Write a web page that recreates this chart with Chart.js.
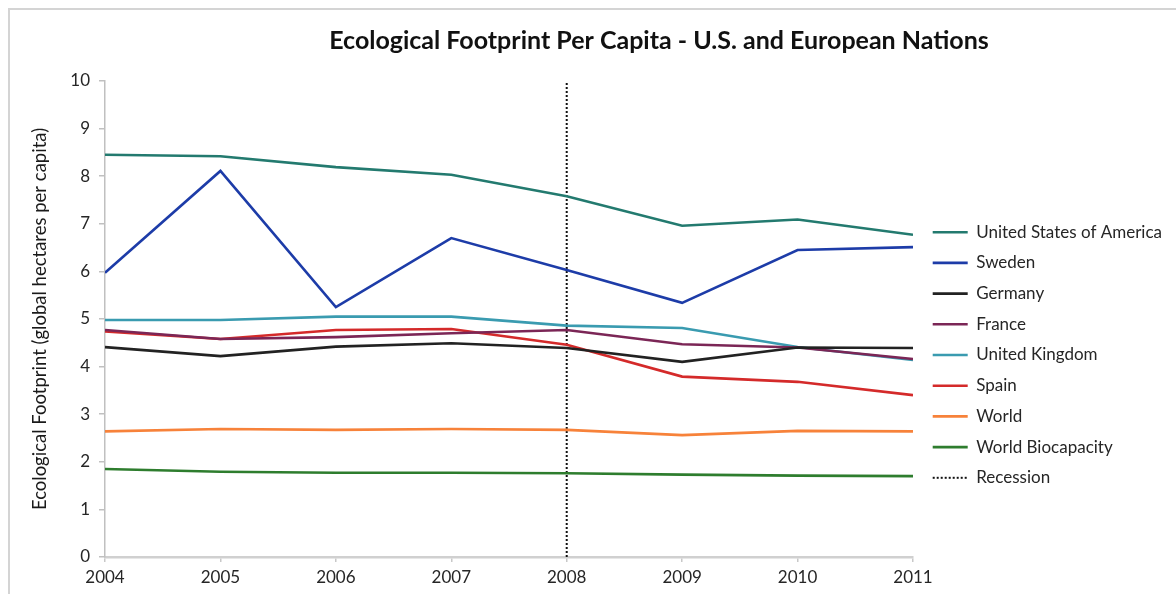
<!DOCTYPE html>
<html>
<head>
<meta charset="utf-8">
<script src="https://cdn.jsdelivr.net/npm/chart.js@4.4.1/dist/chart.umd.min.js"></script>
<style>
  html, body { margin: 0; padding: 0; background: #ffffff; }
  #wrap { position: relative; width: 1176px; height: 594px; overflow: hidden; }
  #frame { position: absolute; left: 8px; top: 8px; width: 1300px; height: 700px;
           border-top: 2px solid #d4d4d4; border-left: 2px solid #d4d4d4; }
  #c { position: absolute; left: 0; top: 0; }
</style>
</head>
<body>
<div id="wrap">
  <div id="frame"></div>
  <canvas id="c" width="1176" height="594"></canvas>
</div>
<script>
const years = [2004, 2005, 2006, 2007, 2008, 2009, 2010, 2011];
const yTicks = [0, 1, 2, 3, 4, 5, 6, 7, 8, 9, 10];

const usa     = [8.45, 8.42, 8.19, 8.03, 7.58, 6.96, 7.09, 6.77];
const sweden  = [5.97, 8.11, 5.25, 6.70, 6.03, 5.34, 6.45, 6.51];
const germany = [4.41, 4.22, 4.42, 4.49, 4.39, 4.10, 4.40, 4.39];
const france  = [4.77, 4.58, 4.62, 4.70, 4.77, 4.47, 4.40, 4.16];
const uk      = [4.98, 4.98, 5.05, 5.05, 4.86, 4.81, 4.41, 4.14];
const spain   = [4.74, 4.58, 4.77, 4.79, 4.46, 3.79, 3.68, 3.40];
const world   = [2.64, 2.69, 2.67, 2.69, 2.67, 2.56, 2.65, 2.64];
const bio     = [1.85, 1.79, 1.77, 1.77, 1.76, 1.73, 1.71, 1.70];

const recessionYear = 2008;
const recessionRange = [0, 10];

const seriesNames = ['United States of America', 'Sweden', 'Germany', 'France',
                     'United Kingdom', 'Spain', 'World', 'World Biocapacity'];
const seriesValues = [usa, sweden, germany, france, uk, spain, world, bio];
const seriesColors = ['#237a6f', '#1d3ca8', '#222222', '#7b2656',
                      '#3a9bb0', '#d42a2a', '#f7823a', '#2e7d2e'];

const FONT = 'Lato, "Open Sans", sans-serif';

const datasets = seriesNames.map((name, i) => ({
  label: name,
  data: seriesValues[i].map((v, j) => ({ x: years[j], y: v })),
  borderColor: seriesColors[i],
  backgroundColor: seriesColors[i],
  borderWidth: 2.6,
  pointRadius: 0,
  tension: 0,
  fill: false
}));
datasets.push({
  label: 'Recession',
  data: recessionRange.map(v => ({ x: recessionYear, y: v })),
  borderColor: '#111111',
  backgroundColor: '#111111',
  borderWidth: 2,
  borderDash: [2, 2],
  pointRadius: 0,
  fill: false
});

const layoutTweak = {
  id: 'layoutTweak',
  beforeLayout(chart) {
    const lg = chart.legend;
    if (lg && !lg._patched) {
      const orig = lg.fit.bind(lg);
      lg.fit = function () { orig(); this.width = 263; };
      lg._patched = true;
    }
  },
  afterLayout(chart) {
    const lg = chart.legend;
    if (lg) { lg.left += 6; lg.right += 6; lg.top += 58; lg.bottom += 58; }
    const t = chart.titleBlock;
    if (t) { t.left += 71; t.right += 71; }
  }
};

new Chart(document.getElementById('c'), {
  type: 'line',
  data: { datasets },
  plugins: [layoutTweak],
  options: {
    responsive: false,
    animation: false,
    devicePixelRatio: 1,
    layout: { padding: 0 },
    plugins: {
      title: {
        display: true,
        text: 'Ecological Footprint Per Capita - U.S. and European Nations',
        color: '#111111',
        font: { family: FONT, size: 25, weight: 'bold' },
        padding: { top: 26, bottom: 25 }
      },
      legend: {
        display: true,
        position: 'right',
        labels: {
          usePointStyle: true,
          pointStyle: 'line',
          pointStyleWidth: 35,
          padding: 13.7,
          color: '#262626',
          font: { family: FONT, size: 17 },
          generateLabels(chart) {
            const items = Chart.defaults.plugins.legend.labels.generateLabels(chart);
            items.forEach(it => {
              const ds = chart.data.datasets[it.datasetIndex];
              it.lineDash = ds.borderDash || [];
              it.lineWidth = ds.borderWidth;
              it.strokeStyle = ds.borderColor;
            });
            return items;
          }
        }
      },
      tooltip: { enabled: false }
    },
    scales: {
      x: {
        type: 'linear',
        min: years[0],
        max: years[years.length - 1],
        afterBuildTicks(scale) { scale.ticks = years.map(v => ({ value: v })); },
        afterFit(scale) { scale.height = 37; },
        ticks: {
          callback: v => String(v),
          color: '#262626',
          font: { family: FONT, size: 17 },
          padding: 5,
          maxRotation: 0
        },
        grid: { display: true, drawOnChartArea: false, drawTicks: true, tickLength: 5, color: '#c8c8c8', lineWidth: 1.5 },
        border: { display: true, color: '#d0d0d0', width: 2.5 }
      },
      y: {
        min: 0,
        max: 10,
        afterBuildTicks(scale) { scale.ticks = yTicks.map(v => ({ value: v })); },
        afterFit(scale) { scale.width = 105; },
        ticks: {
          color: '#262626',
          font: { family: FONT, size: 17 },
          padding: 9
        },
        grid: { display: true, drawOnChartArea: false, drawTicks: true, tickLength: 6, color: '#c0c0c0', lineWidth: 1.5 },
        border: { display: true, color: '#c0c0c0', width: 1.5 },
        title: {
          display: true,
          text: 'Ecological Footprint (global hectares per capita)',
          color: '#1a1a1a',
          font: { family: FONT, size: 18.5 },
          padding: { top: 29, bottom: 0 }
        }
      }
    }
  }
});
</script>
</body>
</html>
